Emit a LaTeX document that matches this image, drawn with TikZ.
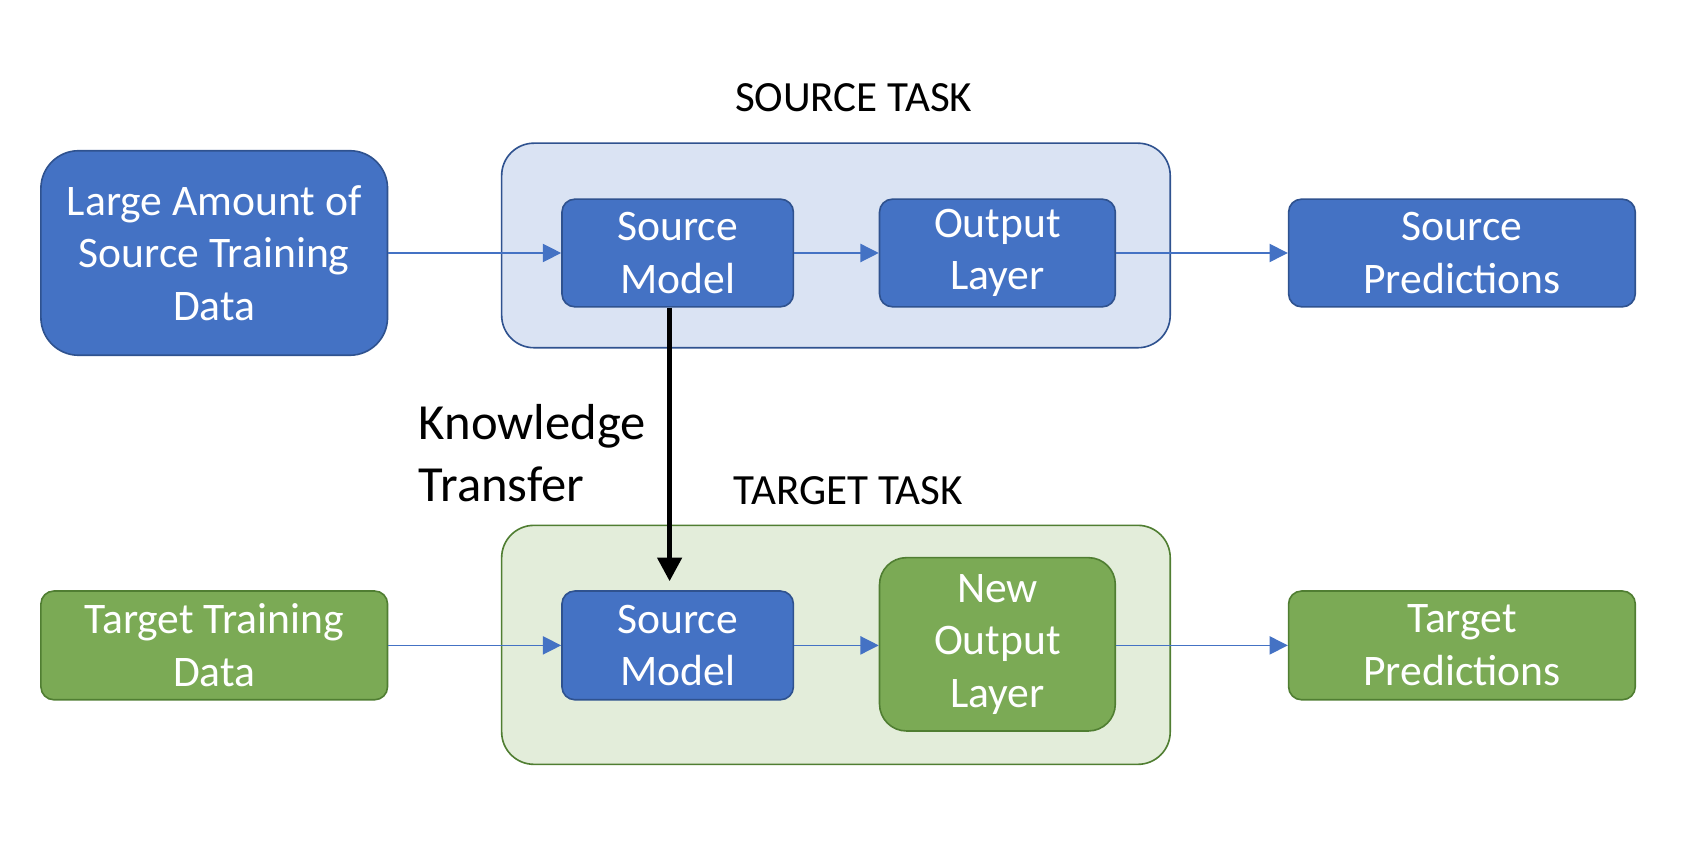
\documentclass[tikz,border=0pt]{standalone}
\usepackage{fontspec}
\setmainfont{Carlito}
\usetikzlibrary{arrows.meta}
\definecolor{oblue}{HTML}{4472C4}
\definecolor{oblueedge}{HTML}{2F528F}
\definecolor{lblue}{HTML}{DAE3F3}
\definecolor{ogreen}{HTML}{7BAA55}
\definecolor{ogreenedge}{HTML}{507E32}
\definecolor{lgreen}{HTML}{E3EDDA}
\tikzset{
  bigfont/.style={font=\fontsize{40.5}{49}\selectfont},
  bluebox/.style={draw=oblueedge, fill=oblue, line width=1.5pt, text=white, align=center, bigfont, inner sep=0pt, rounded corners=12pt},
  greenbox/.style={draw=ogreenedge, fill=ogreen, line width=1.5pt, text=white, align=center, bigfont, inner sep=0pt, rounded corners=12pt},
  sourcetask/.style={draw=oblueedge, fill=lblue, line width=1.5pt, rounded corners=30pt, inner sep=0pt},
  targettask/.style={draw=ogreenedge, fill=lgreen, line width=1.5pt, rounded corners=30pt, inner sep=0pt},
  flow/.style={draw=oblue, line width=1.2pt, -{Triangle[length=17pt,width=17pt]}},
  transfer/.style={draw=black, line width=5pt, -{Triangle[length=22pt,width=22pt]}},
  tasklabel/.style={font=\fontsize{40}{48}\selectfont, inner sep=0pt},
  ktlabel/.style={font=\fontsize{47}{58}\selectfont, align=left, inner sep=0pt, anchor=west},
}
\begin{document}
\begin{tikzpicture}[x=1pt,y=-1pt]
\useasboundingbox (0,0) rectangle (1568,790);
% task containers
\node[sourcetask, minimum width=621pt, minimum height=190pt] (stask) at (776.5,228) {};
\node[targettask, minimum width=621pt, minimum height=222pt] (ttask) at (776.5,599) {};
\node[tasklabel] (stlabel) at (793,91) {SOURCE TASK};
\node[tasklabel] (ttlabel) at (788,456) {TARGET TASK};
% source row
\node[bluebox, minimum width=322pt, minimum height=190pt, rounded corners=35pt] (sdata) at (199,235) {Large Amount of\\Source Training\\Data};
\node[bluebox, minimum width=215pt, minimum height=100pt] (smodel) at (629.5,235) {Source\\Model};
\node[bluebox, minimum width=219pt, minimum height=100pt] (sout) at (926.5,235) {Output\\Layer};
\node[bluebox, minimum width=322pt, minimum height=100pt] (spred) at (1358,235) {Source\\Predictions};
% target row
\node[greenbox, minimum width=322pt, minimum height=101pt] (tdata) at (199,599.5) {Target Training\\Data};
\node[bluebox, minimum width=215pt, minimum height=101pt] (tmodel) at (629.5,599.5) {Source\\Model};
\node[greenbox, minimum width=219pt, minimum height=161pt, rounded corners=25pt] (tout) at (926.5,598.5) {New\\Output\\Layer};
\node[greenbox, minimum width=322pt, minimum height=101pt] (tpred) at (1358,599.5) {Target\\Predictions};
% flows
\draw[flow] (sdata.east) -- (smodel.west);
\draw[flow] (smodel.east) -- (sout.west);
\draw[flow] (sout.east) -- (spred.west);
\draw[flow] (tdata.east) -- (tmodel.west);
\draw[flow] (tmodel.east) -- (tmodel.east -| tout.west);
\draw[flow] (tout.east |- tpred.west) -- (tpred.west);
% knowledge transfer
\coordinate (kttip) at (622,540);
\draw[transfer] (smodel.south -| kttip) -- (kttip);
\node[ktlabel] (kt) at (389,421) {Knowledge\\Transfer};
\end{tikzpicture}
\end{document}
